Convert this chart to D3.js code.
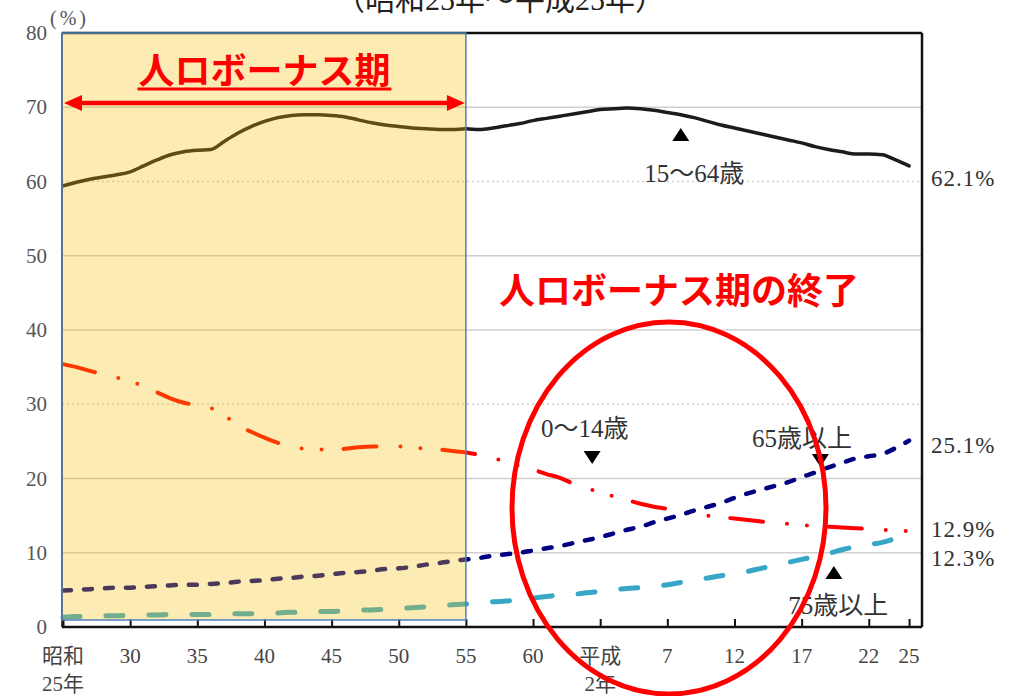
<!DOCTYPE html>
<html>
<head>
<meta charset="utf-8">
<script src="https://cdn.jsdelivr.net/npm/d3@7"></script>
<style>
  html, body { margin: 0; padding: 0; background: #fff; }
  svg { display: block; }
</style>
</head>
<body>
<svg id="chart" width="1019" height="696"></svg>
<script>
// 年齢3区分別人口割合の推移（昭和25年～平成25年）
const years = [
  1950, 1951, 1952, 1953, 1954, 1955, 1956, 1957, 1958, 1959,
  1960, 1961, 1962, 1963, 1964, 1965, 1966, 1967, 1968, 1969,
  1970, 1971, 1972, 1973, 1974, 1975, 1976, 1977, 1978, 1979,
  1980, 1981, 1982, 1983, 1984, 1985, 1986, 1987, 1988, 1989,
  1990, 1991, 1992, 1993, 1994, 1995, 1996, 1997, 1998, 1999,
  2000, 2001, 2002, 2003, 2004, 2005, 2006, 2007, 2008, 2009,
  2010, 2011, 2012, 2013
];

// 15～64歳 (%)
const age15to64 = [
  59.4, 59.9, 60.3, 60.6, 60.9, 61.3, 62.1, 62.9, 63.6, 64.0,
  64.2, 64.3, 65.4, 66.5, 67.4, 68.1, 68.6, 68.9, 69.0, 69.0,
  68.9, 68.7, 68.3, 67.9, 67.6, 67.4, 67.2, 67.1, 67.0, 67.0,
  67.1, 67.0, 67.2, 67.5, 67.8, 68.2, 68.5, 68.8, 69.1, 69.4,
  69.7, 69.8, 69.9, 69.8, 69.6, 69.3, 69.0, 68.6, 68.1, 67.6,
  67.2, 66.8, 66.4, 66.0, 65.6, 65.2, 64.7, 64.3, 64.0, 63.7,
  63.7, 63.6, 62.9, 62.1
];

// 0～14歳 (%)
const age0to14 = [
  35.4, 35.0, 34.5, 34.0, 33.6, 33.1, 32.4, 31.6, 30.8, 30.2,
  29.9, 29.5, 28.5, 27.2, 26.3, 25.5, 24.8, 24.3, 24.0, 23.9,
  23.9, 24.0, 24.2, 24.3, 24.3, 24.3, 24.2, 24.0, 23.9, 23.7,
  23.5, 23.2, 22.8, 22.2, 21.7, 21.2, 20.6, 20.1, 19.3, 18.7,
  18.1, 17.6, 17.1, 16.6, 16.2, 15.9, 15.5, 15.3, 15.0, 14.8,
  14.6, 14.4, 14.2, 14.0, 13.9, 13.7, 13.6, 13.5, 13.4, 13.3,
  13.2, 13.1, 13.0, 12.9
];

// 65歳以上 (%)
const age65plus = [
  4.9, 5.0, 5.1, 5.2, 5.3, 5.3, 5.4, 5.5, 5.6, 5.7,
  5.7, 5.8, 5.9, 6.1, 6.2, 6.3, 6.5, 6.6, 6.8, 6.9,
  7.1, 7.3, 7.4, 7.6, 7.8, 7.9, 8.1, 8.4, 8.6, 8.9,
  9.1, 9.3, 9.6, 9.8, 10.0, 10.3, 10.6, 10.9, 11.3, 11.7,
  12.1, 12.6, 13.1, 13.5, 14.1, 14.6, 15.1, 15.7, 16.2, 16.7,
  17.4, 18.0, 18.5, 19.0, 19.5, 20.2, 20.8, 21.5, 22.1, 22.7,
  23.0, 23.3, 24.1, 25.1
];

// 75歳以上 (%)
const age75plus = [
  1.3, 1.4, 1.4, 1.5, 1.5, 1.6, 1.6, 1.6, 1.7, 1.7,
  1.7, 1.7, 1.8, 1.8, 1.8, 1.9, 1.9, 2.0, 2.0, 2.1,
  2.1, 2.2, 2.3, 2.3, 2.4, 2.5, 2.6, 2.7, 2.8, 3.0,
  3.1, 3.2, 3.4, 3.5, 3.7, 3.9, 4.1, 4.3, 4.4, 4.6,
  4.8, 5.0, 5.2, 5.3, 5.5, 5.7, 6.0, 6.3, 6.6, 6.9,
  7.1, 7.5, 7.9, 8.3, 8.7, 9.1, 9.5, 9.9, 10.4, 10.8,
  11.1, 11.4, 11.9, 12.3
];

const xTickYears = [1950, 1955, 1960, 1965, 1970, 1975, 1980, 1985, 1990, 1995, 2000, 2005, 2010, 2013];
const xTickLabels = [
  ["昭和", "25年"], ["30"], ["35"], ["40"], ["45"], ["50"], ["55"], ["60"],
  ["平成", "2年"], ["7"], ["12"], ["17"], ["22"], ["25"]
];
const yTicks = [0, 10, 20, 30, 40, 50, 60, 70, 80];
const bonusPeriod = [1950, 1980];

// ---------------------------------------------------------------
const svg = d3.select("#chart");
const x = d3.scaleLinear().domain([1950, 2014]).range([63, 922.5]);
const y = d3.scaleLinear().domain([0, 80]).range([627, 33]);
const plotL = 62, plotR = 922, plotT = y(80), plotB = y(0);

const serif = '"Liberation Serif", "DejaVu Serif", "Noto Sans CJK JP", serif';
const gothic = '"Noto Sans CJK JP", "Noto Sans", sans-serif';
const textGrey = "#333";

// title (partly outside the canvas at top)
svg.append("text")
  .attr("x", 500).attr("y", 10)
  .attr("text-anchor", "middle")
  .attr("font-family", serif).attr("font-size", 30)
  .attr("fill", "#222")
  .text("（昭和25年～平成25年）");

// horizontal grid lines
svg.append("g").selectAll("line")
  .data(yTicks.filter(v => v > 0 && v < 80))
  .join("line")
  .attr("x1", plotL).attr("x2", plotR)
  .attr("y1", d => y(d)).attr("y2", d => y(d))
  .attr("stroke", "#cfcfcf")
  .attr("stroke-width", 1.5)
  .attr("stroke-dasharray", d => (d === 30 || d === 60) ? "2,3" : null);

// series lines
const lineGen = d3.line()
  .x((d, i) => x(years[i]))
  .y(d => y(d))
  .curve(d3.curveMonotoneX);

const seriesStyles = [
  { values: age15to64, color: "#1c1c1c", width: 3.5, dash: null },
  { values: age0to14, color: "#ff0000", width: 4, dash: "33,24,0,20,0,22" },
  { values: age65plus, color: "#000080", width: 4.5, dash: "8,13" },
  { values: age75plus, color: "#38a6c6", width: 5, dash: "17,26" }
];

svg.append("g").selectAll("path")
  .data(seriesStyles)
  .join("path")
  .attr("d", d => lineGen(d.values))
  .attr("fill", "none")
  .attr("stroke", d => d.color)
  .attr("stroke-width", d => d.width)
  .attr("stroke-linecap", "round")
  .attr("stroke-linejoin", "round")
  .attr("stroke-dasharray", d => d.dash);

// plot frame: top / right borders and the left axis
svg.append("line")
  .attr("x1", plotL).attr("x2", plotR).attr("y1", plotT).attr("y2", plotT)
  .attr("stroke", "#111").attr("stroke-width", 2.5);
svg.append("line")
  .attr("x1", plotR).attr("x2", plotR).attr("y1", plotT).attr("y2", plotB)
  .attr("stroke", "#111").attr("stroke-width", 2.5);
svg.append("line")
  .attr("x1", plotL).attr("x2", plotL).attr("y1", plotT).attr("y2", plotB)
  .attr("stroke", "#444").attr("stroke-width", 2);

// x axis with inward ticks
const xAxis = d3.axisBottom(x)
  .tickValues(xTickYears)
  .tickSize(-8)
  .tickSizeOuter(0)
  .tickFormat("");
const xAxisG = svg.append("g")
  .attr("transform", `translate(0,${plotB})`)
  .call(xAxis);
xAxisG.select(".domain")
  .attr("d", `M${plotL},0H${plotR}`)
  .attr("stroke", "#111").attr("stroke-width", 2.5);
xAxisG.selectAll(".tick line").attr("stroke", "#111").attr("stroke-width", 2);

// highlighted "bonus" period (translucent overlay)
svg.append("rect")
  .attr("x", x(bonusPeriod[0]) - 1)
  .attr("y", plotT)
  .attr("width", x(bonusPeriod[1]) - x(bonusPeriod[0]) + 1)
  .attr("height", plotB - plotT - 7)
  .attr("fill", "#f8bc08")
  .attr("fill-opacity", 0.3)
  .attr("stroke", "#4f81bd")
  .attr("stroke-width", 1.5);

// x tick labels
const xLabelG = svg.append("g")
  .attr("font-family", serif).attr("font-size", 21)
  .attr("fill", "#444").attr("text-anchor", "middle");
xTickYears.forEach((yr, i) => {
  const t = xLabelG.append("text").attr("x", x(yr)).attr("y", 663);
  xTickLabels[i].forEach((s, j) => {
    t.append("tspan").attr("x", x(yr)).attr("dy", j === 0 ? 0 : 28).text(s);
  });
});

// y axis labels
const yAxis = d3.axisLeft(y).tickValues(yTicks).tickSize(0).tickPadding(0);
const yAxisG = svg.append("g")
  .attr("transform", `translate(47,0)`)
  .call(yAxis);
yAxisG.select(".domain").remove();
yAxisG.selectAll(".tick text")
  .attr("font-family", serif).attr("font-size", 21)
  .attr("fill", "#555");
svg.append("text")
  .attr("x", 50).attr("y", 25)
  .attr("font-family", serif).attr("font-size", 20)
  .attr("fill", "#555")
  .attr("letter-spacing", 3)
  .text("(%)");

// end-of-line value labels
const lastIdx = years.length - 1;
const endLabels = [
  { text: "62.1%", value: age15to64[lastIdx], dy: 12 },
  { text: "25.1%", value: age65plus[lastIdx], dy: 4 },
  { text: "12.9%", value: age0to14[lastIdx], dy: -2 },
  { text: "12.3%", value: age75plus[lastIdx], dy: 22 }
];
svg.append("g").selectAll("text")
  .data(endLabels)
  .join("text")
  .attr("x", 931)
  .attr("y", d => y(d.value) + d.dy + 8)
  .attr("font-family", serif).attr("font-size", 23)
  .attr("letter-spacing", 1)
  .attr("fill", textGrey)
  .text(d => d.text);

// series name labels with pointer triangles
function tri(cx, cy, up) {
  const w = 8.5, h = 13;
  return up
    ? `M${cx},${cy}L${cx + w},${cy + h}L${cx - w},${cy + h}Z`
    : `M${cx - w},${cy}L${cx + w},${cy}L${cx},${cy + h}Z`;
}
const pointers = [
  { yr: 1996.0, v: 67.2, up: true },
  { yr: 1989.4, v: 23.7, up: false },
  { yr: 2006.4, v: 23.3, up: false },
  { yr: 2007.4, v: 8.2, up: true }
];
svg.append("g").selectAll("path")
  .data(pointers)
  .join("path")
  .attr("d", d => tri(x(d.yr), y(d.v), d.up))
  .attr("fill", "#000");

const seriesNames = [
  { text: "15～64歳", yr: 1997.0, v: 60.0, anchor: "middle" },
  { text: "0～14歳", yr: 1985.6, v: 25.6, anchor: "start" },
  { text: "65歳以上", yr: 2001.3, v: 24.2, anchor: "start" },
  { text: "75歳以上", yr: 2004.0, v: 1.8, anchor: "start" }
];
svg.append("g").selectAll("text")
  .data(seriesNames)
  .join("text")
  .attr("x", d => x(d.yr))
  .attr("y", d => y(d.v))
  .attr("text-anchor", d => d.anchor)
  .attr("font-family", serif).attr("font-size", 25)
  .attr("fill", textGrey)
  .text(d => d.text);

// "人口ボーナス期" heading and arrow
const bonusMid = (x(bonusPeriod[0]) + x(bonusPeriod[1])) / 2;
svg.append("text")
  .attr("x", bonusMid).attr("y", 84)
  .attr("text-anchor", "middle")
  .attr("font-family", gothic).attr("font-weight", 700).attr("font-size", 36)
  .attr("fill", "#ff0000")
  .text("人ロボーナス期");
svg.append("line")
  .attr("x1", bonusMid - 127).attr("x2", bonusMid + 127)
  .attr("y1", 89).attr("y2", 89)
  .attr("stroke", "#ff0000").attr("stroke-width", 3);

const ax0 = x(bonusPeriod[0]) + 1, ax1 = x(bonusPeriod[1]) - 1, ay = 103;
svg.append("line")
  .attr("x1", ax0 + 12).attr("x2", ax1 - 12)
  .attr("y1", ay).attr("y2", ay)
  .attr("stroke", "#ff0000").attr("stroke-width", 4.5);
svg.append("path")
  .attr("d", `M${ax0},${ay}L${ax0 + 18},${ay - 8}L${ax0 + 18},${ay + 8}Z M${ax1},${ay}L${ax1 - 18},${ay - 8}L${ax1 - 18},${ay + 8}Z`)
  .attr("fill", "#ff0000");

// "人口ボーナス期の終了" and the circled region
svg.append("text")
  .attr("x", 679).attr("y", 304)
  .attr("text-anchor", "middle")
  .attr("font-family", gothic).attr("font-weight", 700).attr("font-size", 36)
  .attr("fill", "#ff0000")
  .text("人ロボーナス期の終了");
svg.append("ellipse")
  .attr("cx", 669).attr("cy", 508)
  .attr("rx", 157).attr("ry", 186)
  .attr("fill", "none")
  .attr("stroke", "#ff0000")
  .attr("stroke-width", 5);
</script>
</body>
</html>
